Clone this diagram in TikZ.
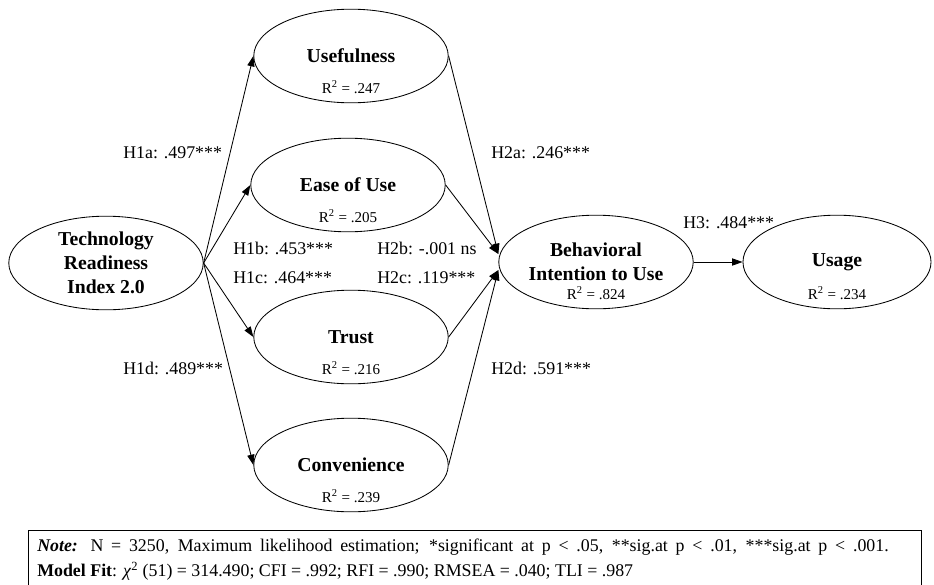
\documentclass[tikz,border=0pt]{standalone}
\usepackage{fontspec}
\setmainfont{Liberation Serif}
\usetikzlibrary{shapes.geometric,arrows.meta}
\tikzset{
	latent/.style={ellipse, draw, line width=0.6pt, inner sep=0pt, minimum width=4.86cm, minimum height=2.34cm, align=center, font=\fontsize{14}{17}\selectfont\bfseries},
	rsq/.style={inner sep=0pt, font=\fontsize{10.7}{12}\selectfont},
	coef/.style={inner sep=0pt, anchor=west, font=\fontsize{12.7}{15}\selectfont},
	effect/.style={-{Triangle[length=0.26cm,width=0.18cm]}, line width=0.6pt},
}

\begin{document}
\begin{tikzpicture}[x=0.025cm, y=-0.025cm]
		%%%%% START %%%%%
		\useasboundingbox (0, 0) rectangle (934, 585);
		
		% constructs
		\node[latent] (tri) at (106, 263) {Technology\\Readiness\\Index 2.0};
		\node[latent] (use) at (351, 56) {Usefulness};
		\node[latent] (eou) at (348, 185) {Ease of Use};
		\node[latent] (trust) at (351, 337) {Trust};
		\node[latent] (conv) at (351, 465) {Convenience};
		\node[latent] (bi) at (596, 262) {Behavioral\\Intention to Use};
		\node[latent, minimum width=4.7cm] (usage) at (837, 262) {Usage};
		
		% explained variance
		\node[rsq] (r-use) at ([yshift=0.4cm]use.south) {R\textsuperscript{2} = .247};
		\node[rsq] (r-eou) at ([yshift=0.4cm]eou.south) {R\textsuperscript{2} = .205};
		\node[rsq] (r-trust) at ([yshift=0.4cm]trust.south) {R\textsuperscript{2} = .216};
		\node[rsq] (r-conv) at ([yshift=0.4cm]conv.south) {R\textsuperscript{2} = .239};
		\node[rsq] (r-bi) at ([yshift=0.4cm]bi.south) {R\textsuperscript{2} = .824};
		\node[rsq] (r-usage) at ([yshift=0.4cm]usage.south) {R\textsuperscript{2} = .234};
		
		% paths
		\draw[effect] (tri.east) -- (use.west);
		\draw[effect] (tri.east) -- (eou.west);
		\draw[effect] (tri.east) -- (trust.west);
		\draw[effect] (tri.east) -- (conv.west);
		\draw[effect] (use.east) -- ([yshift=0.2cm]bi.west);
		\draw[effect] (eou.east) -- ([yshift=0.2cm]bi.west);
		\draw[effect] (trust.east) -- ([yshift=-0.2cm]bi.west);
		\draw[effect] (conv.east) -- ([yshift=-0.2cm]bi.west);
		\draw[effect] (bi.east) -- (usage.west);
		
		% path coefficients
		\node[coef] (h1a) at (123, 153) {H1a: .497***};
		\node[coef] (h1b) at (233, 248) {H1b: .453***};
		\node[coef] (h1c) at (233, 278) {H1c: .464***};
		\node[coef] (h1d) at (123, 368) {H1d: .489***};
		\node[coef] (h2a) at (491, 153) {H2a: .246***};
		\node[coef] (h2b) at (377, 248) {H2b: -.001 ns};
		\node[coef] (h2c) at (377, 278) {H2c: .119***};
		\node[coef] (h2d) at (491, 368) {H2d: .591***};
		\node[coef] (h3) at (683, 223) {H3: .484***};
		
		% note box
		\draw[line width=0.6pt] (28, 530) rectangle (921, 595);
		\node[inner sep=0pt, anchor=north west, align=left, font=\fontsize{12.7}{17.5}\selectfont] (note) at (37, 539)
			{\makebox[21.28cm][s]{\textbf{\textit{Note:}} N = 3250, Maximum likelihood estimation; *significant at p < .05, **sig.at p < .01, ***sig.at p < .001.}\\
			\textbf{Model Fit}: \textit{χ}\textsuperscript{2} (51) = 314.490; CFI = .992; RFI = .990; RMSEA = .040; TLI = .987};
		
		%%%%% END %%%%%
	\end{tikzpicture}
\end{document}
